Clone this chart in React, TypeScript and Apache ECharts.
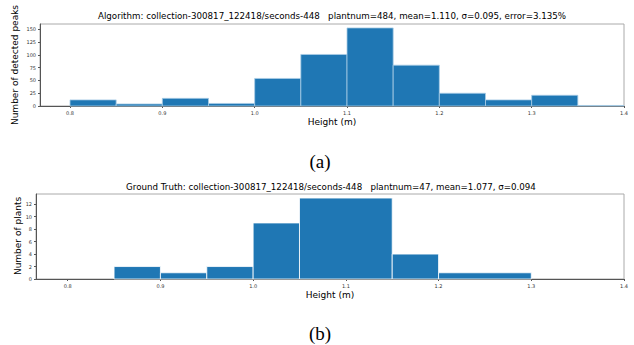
import React, { useEffect, useRef } from "react";
import * as echarts from "echarts";

// Top histogram (algorithm): [binStart, binEnd, count]
const algoBins: number[][] = [
  [0.8, 0.85, 12],
  [0.85, 0.9, 4],
  [0.9, 0.95, 15],
  [0.95, 1.0, 5],
  [1.0, 1.05, 54],
  [1.05, 1.1, 101],
  [1.1, 1.15, 153],
  [1.15, 1.2, 80],
  [1.2, 1.25, 25],
  [1.25, 1.3, 12],
  [1.3, 1.35, 21],
  [1.35, 1.4, 1],
];

// Bottom histogram (ground truth)
const truthBins: number[][] = [
  [0.85, 0.9, 2],
  [0.9, 0.95, 1],
  [0.95, 1.0, 2],
  [1.0, 1.05, 9],
  [1.05, 1.15, 13],
  [1.15, 1.2, 4],
  [1.2, 1.3, 1],
];

const xTicks = [0.8, 0.9, 1.0, 1.1, 1.2, 1.3, 1.4];
const algoYTicks = [0, 25, 50, 75, 100, 125, 150];
const truthYTicks = [0, 2, 4, 6, 8, 10, 12];

const titleA =
  "Algorithm: collection-300817_122418/seconds-448   plantnum=484, mean=1.110, σ=0.095, error=3.135%";
const titleB =
  "Ground Truth: collection-300817_122418/seconds-448   plantnum=47, mean=1.077, σ=0.094";

const FONT = "DejaVu Sans";

export default function App() {
  const ref = useRef<HTMLDivElement>(null);
  useEffect(() => {
    if (!ref.current) return;
    const chart = echarts.init(ref.current, null, { renderer: "svg" });
    const mkRender = (stroke: string, lw: number) => (params: any, api: any) => {
      const x0 = api.value(0);
      const x1 = api.value(1);
      const y = api.value(2);
      const p0 = api.coord([x0, y]);
      const p1 = api.coord([x1, 0]);
      return {
        type: "rect",
        shape: { x: p0[0], y: p0[1], width: p1[0] - p0[0], height: p1[1] - p0[1] },
        style: { fill: "#1f77b4", stroke, lineWidth: lw },
      };
    };
    const xAxisCommon = (gridIndex: number, min: number) => ({
      type: "value",
      gridIndex,
      min,
      max: 1.4,
      axisLine: { show: true, lineStyle: { color: "#555", width: 1 } },
      axisTick: { show: true, length: 2, customValues: xTicks, lineStyle: { color: "#555" } },
      axisLabel: {
        customValues: xTicks,
        formatter: (v: number) => v.toFixed(1),
        fontSize: 5,
        fontFamily: FONT,
        color: "#333",
        margin: 4,
      },
      splitLine: { show: false },
    });
    const yAxisCommon = (gridIndex: number, max: number, ticks: number[]) => ({
      type: "value",
      gridIndex,
      min: 0,
      max,
      axisLine: { show: true, lineStyle: { color: "#555", width: 1 } },
      axisTick: { show: true, length: 2, customValues: ticks, lineStyle: { color: "#555" } },
      axisLabel: {
        customValues: ticks,
        fontSize: 5,
        fontFamily: FONT,
        color: "#333",
        margin: 4,
      },
      splitLine: { show: false },
    });
    const txt = (text: string, x: number, y: number, size: number, family: string, rot = 0) => ({
      type: "text",
      x,
      y,
      rotation: rot,
      style: {
        text,
        fontFamily: family,
        fontSize: size,
        fill: "#000",
        align: "center",
        verticalAlign: "middle",
      },
    });
    chart.setOption({
      animation: false,
      backgroundColor: "#fff",
      grid: [
        { left: 40, right: 10, top: 24, height: 82, show: true, borderColor: "#aaa", borderWidth: 1, backgroundColor: "transparent" },
        { left: 36, right: 10, top: 194, height: 85, show: true, borderColor: "#aaa", borderWidth: 1, backgroundColor: "transparent" },
      ],
      xAxis: [xAxisCommon(0, 0.7675), xAxisCommon(1, 0.7658)],
      yAxis: [
        yAxisCommon(0, 160.7, algoYTicks),
        yAxisCommon(1, 13.65, truthYTicks),
      ],
      series: [
        {
          type: "custom",
          xAxisIndex: 0,
          yAxisIndex: 0,
          data: algoBins,
          encode: { x: [0, 1], y: 2 },
          renderItem: mkRender("#a9cde6", 0.8),
        },
        {
          type: "custom",
          xAxisIndex: 1,
          yAxisIndex: 1,
          data: truthBins,
          encode: { x: [0, 1], y: 2 },
          renderItem: mkRender("#ffffff", 0.8),
        },
      ],
      graphic: [
        txt(titleA, 332, 16, 8.7, FONT),
        txt(titleB, 331, 187, 8.7, FONT),
        txt("Number of detected peaks", 15, 65, 9, FONT, Math.PI / 2),
        txt("Number of plants", 18, 236, 9, FONT, Math.PI / 2),
        txt("Height (m)", 332, 122, 9, FONT),
        txt("Height (m)", 330, 295, 9, FONT),
        txt("(a)", 320, 161, 19, "Liberation Serif"),
        txt("(b)", 320, 333, 19, "Liberation Serif"),
      ],
    });
    return () => chart.dispose();
  }, []);
  return (
    <div
      ref={ref}
      style={{ position: "fixed", left: 0, top: 0, width: 634, height: 345, background: "#fff" }}
    />
  );
}
